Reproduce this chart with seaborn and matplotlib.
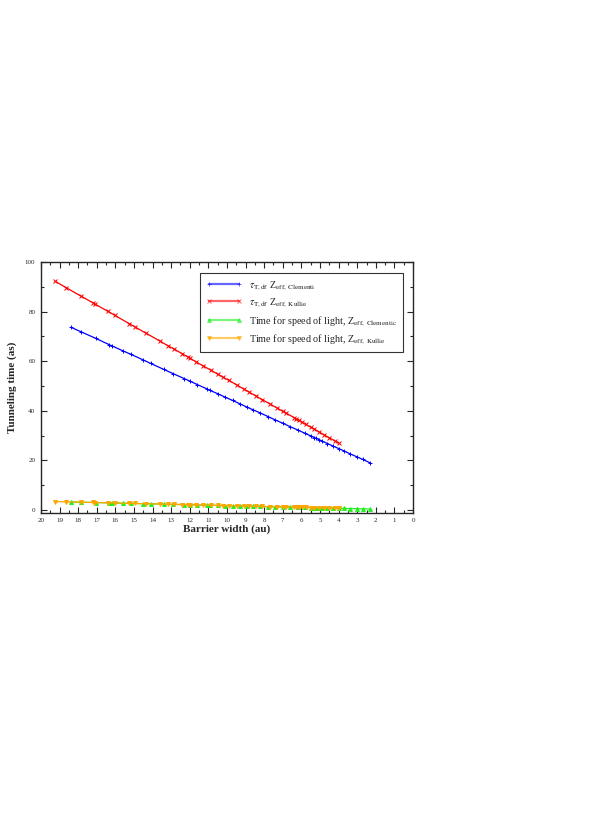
import numpy as np
import pandas as pd
import seaborn as sns
import matplotlib.pyplot as plt
from matplotlib.ticker import MultipleLocator

# barrier widths (au) and tunneling times (as)
x_clementi = [18.39, 17.86, 17.05, 16.34, 16.19, 15.57, 15.17, 14.5, 14.1, 13.4, 12.9, 12.3,
              12.0, 11.6, 11.1, 10.9, 10.5, 10.1, 9.7, 9.3, 8.9, 8.6, 8.2, 7.8, 7.4, 7.0,
              6.6, 6.2, 5.8, 5.5, 5.3, 5.2, 5.05, 4.9, 4.6, 4.3, 4.0, 3.7, 3.4, 3.0, 2.7, 2.3]
t_clementi = [73.7, 71.9, 69.2, 66.7, 66.2, 64.1, 62.8, 60.5, 59.1, 56.7, 55.0, 53.0,
              52.0, 50.6, 48.9, 48.2, 46.9, 45.5, 44.2, 42.8, 41.4, 40.4, 39.1, 37.7, 36.3, 35.0,
              33.6, 32.3, 30.9, 29.9, 29.2, 28.9, 28.4, 27.8, 26.8, 25.8, 24.8, 23.8, 22.7, 21.4, 20.4, 19.0]
light_clementi = [3.25, 3.16, 3.01, 2.89, 2.86, 2.75, 2.68, 2.56, 2.49, 2.37, 2.28, 2.17,
                  2.12, 2.05, 1.96, 1.93, 1.86, 1.79, 1.71, 1.64, 1.57, 1.52, 1.45, 1.38, 1.31, 1.24,
                  1.17, 1.10, 1.02, 0.97, 0.94, 0.92, 0.89, 0.87, 0.81, 0.76, 0.71, 0.65, 0.60, 0.53, 0.48, 0.41]

x_kullie = [19.25, 18.66, 17.86, 17.2, 17.09, 16.42, 16.03, 15.27, 14.94, 14.33, 13.6, 13.17,
            12.85, 12.4, 12.1, 12.0, 11.65, 11.3, 10.85, 10.5, 10.2, 9.9, 9.45, 9.1, 8.8, 8.45,
            8.1, 7.7, 7.3, 7.0, 6.85, 6.4, 6.3, 6.15, 5.95, 5.75, 5.5, 5.3, 5.05, 4.8, 4.5, 4.2, 4.0]
t_kullie = [92.3, 89.7, 86.3, 83.5, 83.0, 80.2, 78.5, 75.2, 73.8, 71.2, 68.1, 66.2,
            64.9, 63.0, 61.7, 61.2, 59.7, 58.2, 56.3, 54.8, 53.5, 52.3, 50.3, 48.8, 47.5, 46.0,
            44.5, 42.8, 41.1, 39.8, 39.2, 37.3, 36.8, 36.2, 35.3, 34.5, 33.4, 32.6, 31.5, 30.4, 29.1, 27.9, 27.0]
light_kullie = [3.40, 3.30, 3.16, 3.04, 3.02, 2.90, 2.83, 2.70, 2.64, 2.53, 2.41, 2.33,
                2.27, 2.19, 2.14, 2.12, 2.06, 2.00, 1.92, 1.86, 1.81, 1.75, 1.67, 1.61, 1.56, 1.50,
                1.43, 1.36, 1.29, 1.24, 1.21, 1.13, 1.12, 1.09, 1.05, 1.02, 0.97, 0.94, 0.89, 0.85, 0.80, 0.74, 0.71]

labels = [r'$\tau_{\mathrm{T,df}}$ Z$_{\mathrm{eff,\ Clementi}}$',
          r'$\tau_{\mathrm{T,df}}$ Z$_{\mathrm{eff,\ Kullie}}$',
          r'Time for speed of light, Z$_{\mathrm{eff,\ Clementic}}$',
          r'Time for speed of light, Z$_{\mathrm{eff,\ Kullie}}$']

sns.set_style('ticks')
plt.rcParams['font.family'] = ['Liberation Serif', 'DejaVu Serif']
plt.rcParams['mathtext.fontset'] = 'stix'

fig = plt.figure(figsize=(5.99, 8.17), dpi=100)
ax = fig.add_axes([0.0684, 0.3727, 0.6211, 0.3066])

series = [
    (x_clementi, t_clementi, '#0000ff', '+', 3.5),
    (x_kullie, t_kullie, '#ff0000', 'x', 2.8),
    (x_clementi, light_clementi, '#22ee22', '^', 2.8),
    (x_kullie, light_kullie, '#ffa500', 'v', 2.8),
]
for (xs, ys, c, m, ms), lab in zip(series, labels):
    df = pd.DataFrame({'w': xs, 't': ys})
    sns.lineplot(data=df, x='w', y='t', sort=False, estimator=None, ax=ax,
                 color=c, marker=m, markersize=ms, markeredgecolor=c, markeredgewidth=0.7,
                 linewidth=0.9, label=lab)

ax.set_xlim(20, 0)
ax.set_ylim(-1, 100)
ax.xaxis.set_major_locator(MultipleLocator(1))
ax.xaxis.set_minor_locator(MultipleLocator(0.5))
ax.yaxis.set_major_locator(MultipleLocator(20))
ax.yaxis.set_minor_locator(MultipleLocator(10))
ax.tick_params(which='both', direction='in', top=True, right=True, labelsize=5, width=0.8, pad=4)
ax.tick_params(which='major', length=4)
ax.tick_params(which='minor', length=2.5)
for s in ax.spines.values():
    s.set_linewidth(1.0)

ax.set_xlabel('Barrier width (au)', fontsize=8, fontweight='bold', labelpad=1)
ax.set_ylabel('Tunneling time (as)', fontsize=8, fontweight='bold', labelpad=6)

leg = ax.legend(loc='upper right', bbox_to_anchor=(0.988, 0.978), fontsize=7.3, frameon=True,
                fancybox=False, edgecolor='black', numpoints=2, handlelength=3.6,
                borderpad=0.6, labelspacing=0.45, handletextpad=0.7)
leg.get_frame().set_linewidth(0.8)
for h in leg.legend_handles:
    h.set_alpha(0.6)
    h.set_linewidth(1.6)

fig.savefig('out.png', dpi=100)
